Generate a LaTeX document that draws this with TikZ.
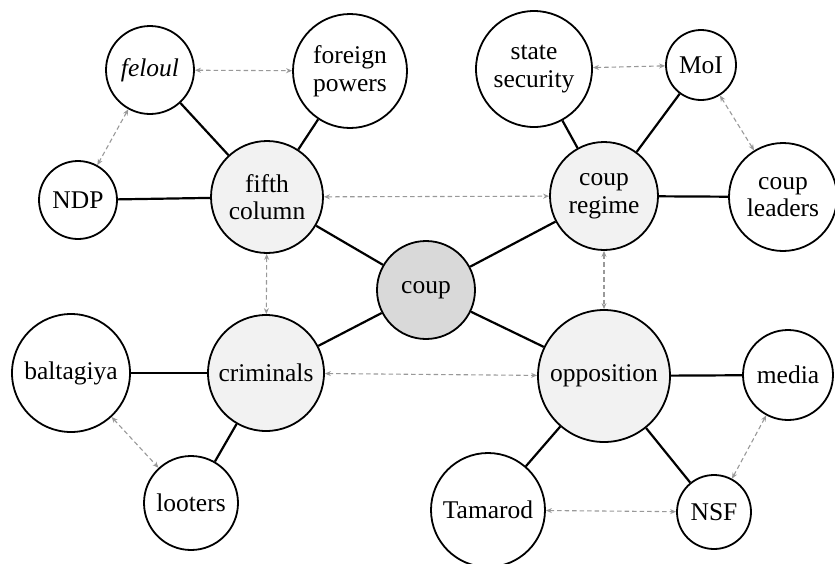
\documentclass[tikz,border=0pt]{standalone}
\usepackage{fontspec}
\setmainfont{Liberation Serif}
\usetikzlibrary{arrows.meta}
\begin{document}
\begin{tikzpicture}[x=1pt,y=-1pt,
  base/.style={circle,draw=black,line width=1.8pt,inner sep=0pt,align=center,
    font=\fontsize{25.5}{27.5}\selectfont},
  outer/.style={base,fill=white},
  mid/.style={base,fill=black!5},
  core/.style={base,fill=black!15},
  link/.style={line width=2.2pt,black},
  rel/.style={draw=black!40,line width=1.1pt,dash pattern=on 4.5pt off 3pt,
    {Stealth[length=6pt,width=5pt]}-{Stealth[length=6pt,width=5pt]}}]
\useasboundingbox (0,0) rectangle (835,563);
% nodes
\node[core,minimum size=98pt] (coup) at (426,290) {coup};
\node[mid,minimum size=112pt] (fifth) at (267,197) {fifth\\column};
\node[mid,minimum size=108pt] (regime) at (604,196) {coup\\regime};
\node[mid,minimum size=116pt] (crim) at (266,373) {criminals};
\node[mid,minimum size=132pt] (opp) at (604,376) {opposition};
\node[outer,minimum size=88pt] (feloul) at (150,70) {\itshape feloul};
\node[outer,minimum size=114pt] (foreign) at (350,71) {foreign\\powers};
\node[outer,minimum size=78pt] (ndp) at (78,200) {NDP};
\node[outer,minimum size=116pt] (state) at (534,69) {state\\security};
\node[outer,minimum size=70pt] (moi) at (701,65) {MoI};
\node[outer,minimum size=108pt] (leaders) at (783,197) {coup\\leaders};
\node[outer,minimum size=118pt] (balt) at (71,373) {baltagiya};
\node[outer,minimum size=94pt] (loot) at (191,503) {looters};
\node[outer,minimum size=90pt] (media) at (788,375) {media};
\node[outer,minimum size=114pt] (tam) at (488,510) {Tamarod};
\node[outer,minimum size=74pt] (nsf) at (714,512) {NSF};
% solid links
\draw[link] (coup) -- (fifth);
\draw[link] (coup) -- (regime);
\draw[link] (coup) -- (crim);
\draw[link] (coup) -- (opp);
\draw[link] (fifth) -- (feloul);
\draw[link] (fifth) -- (foreign);
\draw[link] (fifth) -- (ndp);
\draw[link] (regime) -- (state);
\draw[link] (regime) -- (moi);
\draw[link] (regime) -- (leaders);
\draw[link] (crim) -- (balt);
\draw[link] (crim) -- (loot);
\draw[link] (opp) -- (media);
\draw[link] (opp) -- (tam);
\draw[link] (opp) -- (nsf);
% dashed relations
\draw[rel] (feloul) -- (foreign);
\draw[rel] (feloul) -- (ndp);
\draw[rel] (fifth) -- (regime);
\draw[rel] (fifth) -- (crim);
\draw[rel] (regime) -- (opp);
\draw[rel] (crim) -- (opp);
\draw[rel] (state) -- (moi);
\draw[rel] (moi) -- (leaders);
\draw[rel] (balt) -- (loot);
\draw[rel] (tam) -- (nsf);
\draw[rel] (media) -- (nsf);
\end{tikzpicture}
\end{document}
